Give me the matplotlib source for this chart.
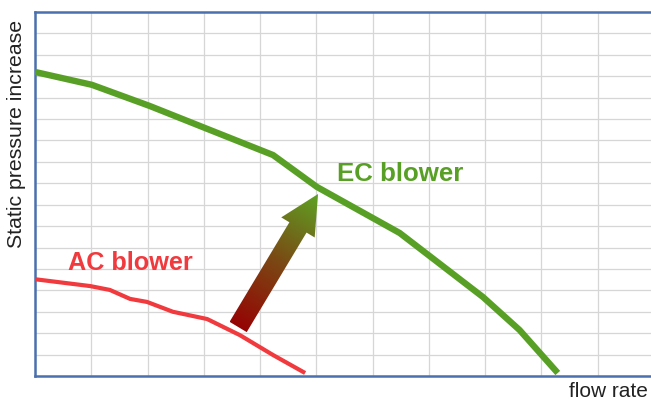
import matplotlib
matplotlib.use('Agg')
import matplotlib.pyplot as plt
import numpy as np
from matplotlib.patches import Polygon
from matplotlib.colors import LinearSegmentedColormap

plt.rcParams['font.family'] = ['Liberation Sans', 'DejaVu Sans']

# EC blower curve (flow rate, static pressure) in grid units
ec_flow = [0.0, 1.01, 2.04, 3.11, 4.23, 5.01, 6.48, 7.96, 8.61, 9.29]
ec_pressure = [14.2, 13.6, 12.61, 11.49, 10.32, 8.83, 6.68, 3.69, 2.15, 0.14]

# AC blower curve
ac_flow = [0.0, 0.98, 1.33, 1.69, 1.99, 2.45, 3.06, 3.64, 4.23, 4.80]
ac_pressure = [4.52, 4.20, 4.02, 3.60, 3.46, 3.00, 2.66, 1.91, 0.98, 0.14]

# improvement arrow, from AC curve to EC curve
arrow_start = (3.61, 2.29)
arrow_end = (5.03, 8.50)

green = '#58a025'
red = '#f03a3e'
blue = '#4a70ae'

fig = plt.figure(figsize=(6.51, 4.01), dpi=100)
ax = fig.add_axes([35 / 651, 25 / 401, 619 / 651, 364 / 401])
ax.set_xlim(0, 11)
ax.set_ylim(0, 17)
ax.set_xticks(np.arange(0, 12, 1))
ax.set_yticks(np.arange(0, 18, 1))
ax.tick_params(length=0, labelbottom=False, labelleft=False)
ax.grid(True, color='#d6d6d6', linewidth=0.9)
ax.set_axisbelow(True)
for s in ax.spines.values():
    s.set_color(blue)
    s.set_linewidth(1.8)

ax.plot(ec_flow, ec_pressure, color=green, linewidth=4.6, solid_capstyle='butt',
        solid_joinstyle='round', zorder=3)
ax.plot(ac_flow, ac_pressure, color=red, linewidth=3.0, solid_capstyle='butt',
        solid_joinstyle='round', zorder=3)

ax.text(5.36, 9.11, 'EC blower', color=green, fontsize=18.6, fontweight='bold', va='baseline', ha='left')
ax.text(0.59, 4.95, 'AC blower', color=red, fontsize=18.2, fontweight='bold', va='baseline', ha='left')

# gradient arrow, built in display space
fig.canvas.draw()
tr = ax.transData
b = tr.transform(arrow_start)
t = tr.transform(arrow_end)
u = (t - b) / np.linalg.norm(t - b)
n = np.array([-u[1], u[0]])
shaft_w = 10.0
head_w = 19.5
head_len = 39.0
hb = t - u * head_len
pts = [b + n * shaft_w, hb + n * shaft_w, hb + n * head_w, t,
       hb - n * head_w, hb - n * shaft_w, b - n * shaft_w]
pts_data = tr.inverted().transform(np.array(pts))
poly = Polygon(pts_data, closed=True, facecolor='none', edgecolor='none', zorder=4)
ax.add_patch(poly)

x0, y0 = pts_data.min(axis=0)
x1, y1 = pts_data.max(axis=0)
gx, gy = np.meshgrid(np.linspace(x0, x1, 200), np.linspace(y0, y1, 200))
disp = tr.transform(np.column_stack([gx.ravel(), gy.ravel()]))
proj = ((disp - b) @ u) / np.linalg.norm(t - b)
proj = np.clip(proj, 0, 1).reshape(gx.shape)
cmap = LinearSegmentedColormap.from_list('arr', ['#950404', '#7a4a14', '#5ea324'])
im = ax.imshow(proj, extent=[x0, x1, y0, y1], origin='lower', cmap=cmap,
               aspect='auto', zorder=4, interpolation='bilinear')
im.set_clip_path(poly)
ax.set_xlim(0, 11)
ax.set_ylim(0, 17)

fig.text(17 / 651, (401 - 134) / 401, 'Static pressure increase', rotation=90,
         ha='center', va='center', fontsize=15.3, color='#222222')
fig.text(648 / 651, 4 / 401, 'flow rate', ha='right', va='baseline',
         fontsize=15, color='#222222')

fig.savefig('out.png', dpi=100)
